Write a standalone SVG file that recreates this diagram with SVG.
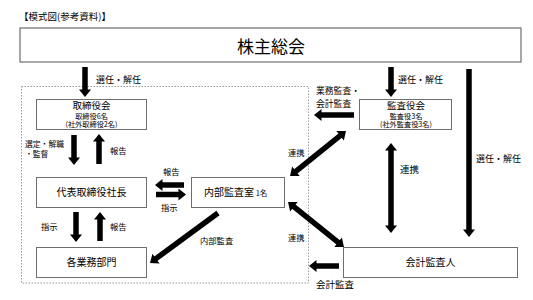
<svg xmlns="http://www.w3.org/2000/svg" width="533" height="300" viewBox="0 0 533 300">
<style>
text{font-family:"Noto Sans CJK JP","Noto Sans CJK SC",sans-serif;fill:#000}
.box{fill:#fff;stroke:#6e6e6e;stroke-width:1}
.lbl{font-size:8.3px}
.nm{font-size:10px;text-anchor:middle}
.hd{font-size:9.5px;text-anchor:middle}
.sm{font-size:7.2px;text-anchor:middle}
.ar{stroke:#000;stroke-width:5.5;fill:none}
</style>
<defs>
<marker id="ah" markerUnits="userSpaceOnUse" viewBox="-1 -7 9 14" refX="0" refY="0" markerWidth="9" markerHeight="14" orient="auto-start-reverse">
<path d="M-0.5,-6 L7,0 L-0.5,6 z" fill="#000"/>
</marker>
</defs>
<text x="19" y="20" style="font-size:9.5px">【模式図(参考資料)】</text>
<rect x="20" y="28" width="501" height="34" fill="#fff" stroke="#6e6e6e" stroke-width="1.2"/>
<g id="gm"><text x="271" y="53" style="font-size:17px;text-anchor:middle">株主総会</text></g>
<rect x="21.5" y="86.5" width="287" height="196.5" fill="none" stroke="#999" stroke-width="1" stroke-dasharray="1.5,1.5"/>
<g id="board"><rect class="box" x="36.5" y="99.5" width="110" height="30"/>
<text class="hd" x="91.5" y="109">取締役会</text>
<text class="sm" x="91.5" y="118.5">取締役6名</text>
<text class="sm" x="91.5" y="127">(社外取締役2名)</text></g>
<g id="ceo"><rect class="box" x="36.5" y="177.5" width="110" height="30"/>
<text class="nm" x="91.5" y="196">代表取締役社長</text></g>
<g id="dept"><rect class="box" x="36.5" y="247.5" width="110" height="30"/>
<text class="nm" x="91.5" y="266">各業務部門</text></g>
<g id="ia"><rect class="box" x="191.5" y="177.5" width="93" height="30"/>
<text x="204" y="196" style="font-size:10px">内部監査室<tspan style="font-size:7.5px"> 1名</tspan></text></g>
<g id="kansa"><rect class="box" x="359.5" y="99.5" width="92" height="30"/>
<text class="hd" x="406" y="109">監査役会</text>
<text class="sm" x="406" y="118.5">監査役3名</text>
<text class="sm" x="406" y="127">(社外監査役3名)</text></g>
<g id="auditor"><rect class="box" x="343.5" y="247.5" width="174" height="30"/>
<text class="nm" x="430.5" y="266">会計監査人</text></g>
<g id="connectors">
<line class="ar" x1="85" y1="67" x2="85" y2="90" marker-end="url(#ah)"/>
<line class="ar" x1="391" y1="67" x2="391" y2="90" marker-end="url(#ah)"/>
<line class="ar" x1="469" y1="69" x2="469" y2="230" marker-end="url(#ah)"/>
<line class="ar" x1="74" y1="135" x2="74" y2="158" marker-end="url(#ah)"/>
<line class="ar" x1="99" y1="164" x2="99" y2="141" marker-end="url(#ah)"/>
<line class="ar" x1="184" y1="185" x2="162" y2="185" marker-end="url(#ah)"/>
<line class="ar" x1="156" y1="194.5" x2="179" y2="194.5" marker-end="url(#ah)"/>
<line class="ar" x1="76" y1="212" x2="76" y2="235" marker-end="url(#ah)"/>
<line class="ar" x1="100" y1="241" x2="100" y2="219" marker-end="url(#ah)"/>
<line class="ar" x1="218" y1="213" x2="155.6" y2="258.9" marker-end="url(#ah)"/>
<line class="ar" x1="354" y1="115" x2="321" y2="115" marker-end="url(#ah)"/>
<line class="ar" x1="295.5" y1="171.6" x2="340.5" y2="135.4" marker-start="url(#ah)" marker-end="url(#ah)"/>
<line class="ar" x1="391" y1="150" x2="391" y2="226" marker-start="url(#ah)" marker-end="url(#ah)"/>
<line class="ar" x1="293.5" y1="206.4" x2="338.5" y2="242.6" marker-start="url(#ah)" marker-end="url(#ah)"/>
<line class="ar" x1="339" y1="266" x2="316" y2="266" marker-end="url(#ah)"/>
</g>
<g id="labels">
<text class="lbl" x="96" y="82.5" style="font-size:9px">選任・解任</text>
<text class="lbl" x="398" y="83" style="font-size:9px">選任・解任</text>
<text class="lbl" x="476" y="162" style="font-size:9px">選任・解任</text>
<text class="lbl" x="25" y="146.5" style="font-size:7.8px">選定・解職</text>
<text class="lbl" x="25" y="157" style="font-size:7.8px">・監督</text>
<text class="lbl" x="110" y="154">報告</text>
<text class="lbl" x="163" y="175">報告</text>
<text class="lbl" x="161" y="211">指示</text>
<text class="lbl" x="41" y="230">指示</text>
<text class="lbl" x="110" y="230">報告</text>
<text class="lbl" x="200" y="244">内部監査</text>
<text class="lbl" x="316" y="93.5" style="font-size:8.8px">業務監査・</text>
<text class="lbl" x="316" y="106.5" style="font-size:8.8px">会計監査</text>
<text class="lbl" x="288" y="156">連携</text>
<text class="lbl" x="400" y="173" style="font-size:9.5px">連携</text>
<text class="lbl" x="288" y="241">連携</text>
<text class="lbl" x="316" y="287.5" style="font-size:9.5px">会計監査</text>
</g>
</svg>
